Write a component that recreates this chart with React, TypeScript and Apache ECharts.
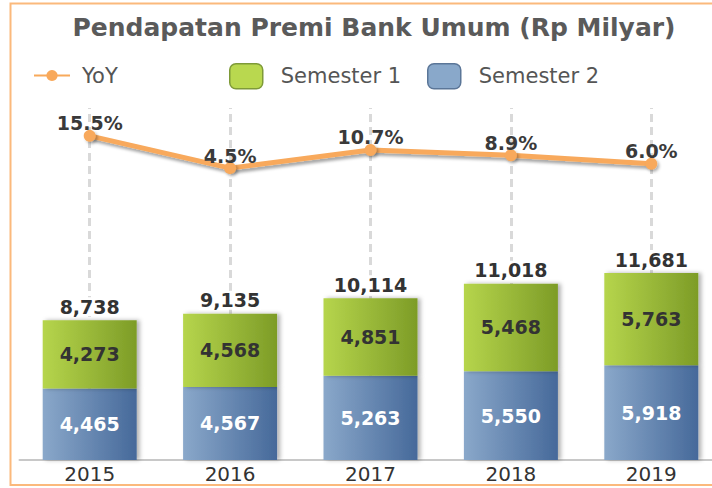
import React, { useEffect, useRef } from 'react';
import * as echarts from 'echarts';

const categories = ['2015', '2016', '2017', '2018', '2019'];
const semester1 = [4273, 4568, 4851, 5468, 5763];
const semester2 = [4465, 4567, 5263, 5550, 5918];
const yoy = [15.5, 4.5, 10.7, 8.9, 6.0];
const totals = categories.map((_, i) => semester1[i] + semester2[i]);
const titleText = 'Pendapatan Premi Bank Umum (Rp Milyar)';

const fmt = (v: number) => Number(v).toLocaleString('en-US');
const FONT = 'DejaVu Sans';

export default function App() {
  const ref = useRef<HTMLDivElement>(null);

  useEffect(() => {
    document.body.style.margin = '0';
    document.body.style.overflow = 'hidden';
    const chart = echarts.init(ref.current as HTMLDivElement, undefined, { renderer: 'svg' });
    const labelStyle = { fontFamily: FONT, fontWeight: 'bold' as const, fontSize: 19 };
    chart.setOption({
      animation: false,
      backgroundColor: '#ffffff',
      textStyle: { fontFamily: FONT },
      title: {
        text: titleText,
        left: 'center',
        top: 15,
        padding: 0,
        textStyle: { fontFamily: FONT, fontSize: 25, fontWeight: 'bold', color: '#5a5a5a' },
      },
      graphic: [
        {
          type: 'rect',
          shape: { x: 10.5, y: 3.5, width: 800, height: 481.5 },
          style: { fill: 'none', stroke: '#fbb97c', lineWidth: 2 },
          silent: true,
          z: 100,
        },
      ],
      legend: [
        {
          data: ['YoY'],
          left: 33,
          top: 65,
          padding: 0,
          itemWidth: 36,
          itemHeight: 14,
          textStyle: { fontFamily: FONT, fontSize: 21, color: '#555555', padding: [0, 0, 0, 7] },
        },
        {
          data: [{ name: 'Semester 1', itemStyle: { color: '#b9d84f', borderColor: '#7e9a38', borderWidth: 1.5 } }],
          left: 229,
          top: 63,
          padding: 0,
          itemWidth: 33,
          itemHeight: 25,
          textStyle: { fontFamily: FONT, fontSize: 21, color: '#555555', padding: [0, 0, 0, 13] },
        },
        {
          data: [{ name: 'Semester 2', itemStyle: { color: '#89a8ca', borderColor: '#5b7698', borderWidth: 1.5 } }],
          left: 427,
          top: 63,
          padding: 0,
          itemWidth: 33,
          itemHeight: 25,
          textStyle: { fontFamily: FONT, fontSize: 21, color: '#555555', padding: [0, 0, 0, 13] },
        },
      ],
      grid: { left: 19.5, width: 702, top: 108, bottom: 28 },
      xAxis: {
        type: 'category',
        data: categories,
        axisLine: { lineStyle: { color: '#c8c8c8', width: 2 } },
        axisTick: { show: false },
        axisLabel: { fontFamily: FONT, fontSize: 20, color: '#333333', margin: 4 },
        splitLine: { show: false },
      },
      yAxis: [
        { type: 'value', min: 0, max: 22000, show: false, splitLine: { show: false } },
        { type: 'value', min: -95, max: 25, show: false, splitLine: { show: false } },
      ],
      series: [
        {
          name: 'Gridlines',
          type: 'line',
          z: 1,
          data: [],
          markLine: {
            silent: true,
            symbol: 'none',
            label: { show: false },
            lineStyle: { color: '#d9d9d9', width: 3, type: [8, 5] },
            data: categories.map((c) => ({ xAxis: c })),
          },
        },
        {
          name: 'Semester 2',
          type: 'bar',
          stack: 'total',
          barWidth: 94,
          z: 5,
          data: semester2,
          itemStyle: {
            color: {
              type: 'linear', x: 0, y: 0, x2: 1, y2: 0,
              colorStops: [
                { offset: 0, color: '#8aa8ca' },
                { offset: 1, color: '#46699a' },
              ],
            },
            shadowColor: 'rgba(0,0,0,0.3)',
            shadowBlur: 4,
            shadowOffsetX: 3,
          },
          label: {
            show: true,
            position: 'inside',
            color: '#ffffff',
            ...labelStyle,
            formatter: (p: any) => fmt(p.value),
          },
        },
        {
          name: 'Semester 1',
          type: 'bar',
          stack: 'total',
          barWidth: 94,
          z: 5,
          data: semester1,
          itemStyle: {
            color: {
              type: 'linear', x: 0, y: 0, x2: 1, y2: 0,
              colorStops: [
                { offset: 0, color: '#b6d54c' },
                { offset: 1, color: '#7d9c27' },
              ],
            },
            shadowColor: 'rgba(0,0,0,0.3)',
            shadowBlur: 4,
            shadowOffsetX: 3,
          },
          label: {
            show: true,
            position: 'inside',
            color: '#333333',
            ...labelStyle,
            formatter: (p: any) => fmt(p.value),
          },
        },
        {
          name: 'Total',
          type: 'bar',
          stack: 'total',
          barWidth: 94,
          z: 5,
          data: categories.map(() => 0),
          itemStyle: { color: 'rgba(0,0,0,0)' },
          label: {
            show: true,
            position: 'top',
            distance: 4,
            color: '#333333',
            backgroundColor: '#ffffff',
            padding: [0, 1],
            ...labelStyle,
            formatter: (p: any) => fmt(totals[p.dataIndex]),
          },
        },
        {
          name: 'YoY',
          type: 'line',
          yAxisIndex: 1,
          z: 6,
          data: yoy,
          symbol: 'circle',
          symbolSize: 12,
          lineStyle: {
            color: '#f8a95b',
            width: 5,
            shadowColor: 'rgba(0,0,0,0.35)',
            shadowBlur: 3,
            shadowOffsetX: 2,
            shadowOffsetY: 3,
          },
          itemStyle: {
            color: '#f8a95b',
            shadowColor: 'rgba(0,0,0,0.3)',
            shadowBlur: 3,
            shadowOffsetX: 2,
            shadowOffsetY: 2,
          },
          label: {
            show: true,
            position: 'top',
            distance: -3,
            color: '#3a3a3a',
            ...labelStyle,
            formatter: (p: any) => Number(p.value).toFixed(1) + '%',
          },
        },
      ],
    });
    return () => chart.dispose();
  }, []);

  return (
    <div
      ref={ref}
      style={{ position: 'fixed', left: 0, top: 0, width: 748, height: 488 }}
    />
  );
}
